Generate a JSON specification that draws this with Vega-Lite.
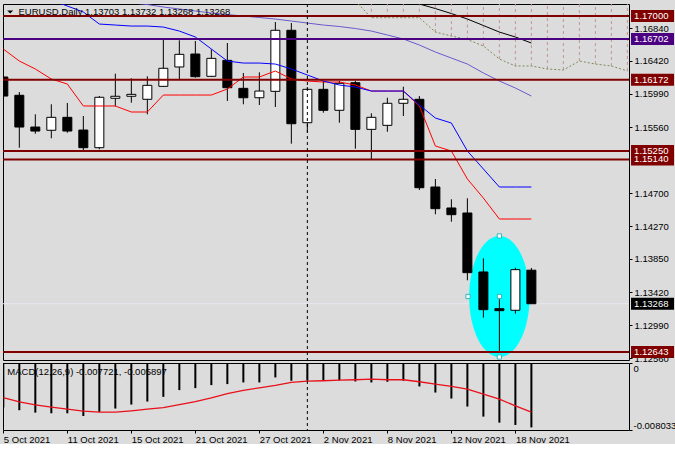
{
  "$schema": "https://vega.github.io/schema/vega-lite/v6.json",
  "background": "#dcdcdc",
  "padding": {"left": 2, "top": 3, "right": 0, "bottom": 0},
  "bounds": "flush",
  "spacing": 3,
  "config": {
    "view": {"stroke": "#000000", "strokeWidth": 1},
    "font": "Liberation Sans",
    "axis": {"labelFont": "Liberation Sans", "labelFontSize": 9.5, "labelColor": "#000000", "tickColor": "#000000", "tickSize": 3, "domain": false, "grid": false}
  },
  "datasets": {
    "candles": [
      {"i": 0, "date": "2021-10-05", "open": 1.16209, "high": 1.16240, "low": 1.15930, "close": 1.15962},
      {"i": 1, "date": "2021-10-06", "open": 1.15972, "high": 1.16014, "low": 1.15292, "close": 1.15560},
      {"i": 2, "date": "2021-10-07", "open": 1.15560, "high": 1.15725, "low": 1.15473, "close": 1.15508},
      {"i": 3, "date": "2021-10-08", "open": 1.15518, "high": 1.15855, "low": 1.15414, "close": 1.15686},
      {"i": 4, "date": "2021-10-11", "open": 1.15686, "high": 1.15872, "low": 1.15486, "close": 1.15508},
      {"i": 5, "date": "2021-10-12", "open": 1.15521, "high": 1.15703, "low": 1.15249, "close": 1.15292},
      {"i": 6, "date": "2021-10-13", "open": 1.15292, "high": 1.15962, "low": 1.15271, "close": 1.15946},
      {"i": 7, "date": "2021-10-14", "open": 1.15933, "high": 1.16252, "low": 1.15829, "close": 1.15959},
      {"i": 8, "date": "2021-10-15", "open": 1.15959, "high": 1.16192, "low": 1.15876, "close": 1.15984},
      {"i": 9, "date": "2021-10-18", "open": 1.15920, "high": 1.16218, "low": 1.15725, "close": 1.16101},
      {"i": 10, "date": "2021-10-19", "open": 1.16088, "high": 1.16693, "low": 1.16079, "close": 1.16322},
      {"i": 11, "date": "2021-10-20", "open": 1.16339, "high": 1.16685, "low": 1.16174, "close": 1.16503},
      {"i": 12, "date": "2021-10-21", "open": 1.16507, "high": 1.16676, "low": 1.16200, "close": 1.16213},
      {"i": 13, "date": "2021-10-22", "open": 1.16218, "high": 1.16568, "low": 1.16209, "close": 1.16451},
      {"i": 14, "date": "2021-10-25", "open": 1.16425, "high": 1.16650, "low": 1.15898, "close": 1.16070},
      {"i": 15, "date": "2021-10-26", "open": 1.16062, "high": 1.16261, "low": 1.15855, "close": 1.15940},
      {"i": 16, "date": "2021-10-27", "open": 1.15940, "high": 1.16270, "low": 1.15846, "close": 1.16027},
      {"i": 17, "date": "2021-10-28", "open": 1.16023, "high": 1.16922, "low": 1.15820, "close": 1.16815},
      {"i": 18, "date": "2021-10-29", "open": 1.16815, "high": 1.16909, "low": 1.15344, "close": 1.15603},
      {"i": 19, "date": "2021-11-01", "open": 1.15616, "high": 1.16079, "low": 1.15490, "close": 1.16049},
      {"i": 20, "date": "2021-11-02", "open": 1.16049, "high": 1.16157, "low": 1.15746, "close": 1.15777},
      {"i": 21, "date": "2021-11-03", "open": 1.15777, "high": 1.16157, "low": 1.15616, "close": 1.16127},
      {"i": 22, "date": "2021-11-04", "open": 1.16135, "high": 1.16157, "low": 1.15279, "close": 1.15530},
      {"i": 23, "date": "2021-11-05", "open": 1.15530, "high": 1.15738, "low": 1.15141, "close": 1.15686},
      {"i": 24, "date": "2021-11-08", "open": 1.15582, "high": 1.15940, "low": 1.15499, "close": 1.15868},
      {"i": 25, "date": "2021-11-09", "open": 1.15868, "high": 1.16083, "low": 1.15703, "close": 1.15920},
      {"i": 26, "date": "2021-11-10", "open": 1.15920, "high": 1.15962, "low": 1.14743, "close": 1.14773},
      {"i": 27, "date": "2021-11-11", "open": 1.14782, "high": 1.14886, "low": 1.14428, "close": 1.14501},
      {"i": 28, "date": "2021-11-12", "open": 1.14510, "high": 1.14623, "low": 1.14332, "close": 1.14423},
      {"i": 29, "date": "2021-11-15", "open": 1.14445, "high": 1.14636, "low": 1.13572, "close": 1.13671},
      {"i": 30, "date": "2021-11-16", "open": 1.13680, "high": 1.13857, "low": 1.13087, "close": 1.13191},
      {"i": 31, "date": "2021-11-17", "open": 1.13204, "high": 1.13326, "low": 1.12643, "close": 1.13178},
      {"i": 32, "date": "2021-11-18", "open": 1.13183, "high": 1.13735, "low": 1.13139, "close": 1.13710},
      {"i": 33, "date": "2021-11-19", "open": 1.13703, "high": 1.13732, "low": 1.13268, "close": 1.13268}
    ],
    "tenkan": [
      {"i": 0, "price": 1.16572}, {"i": 1, "price": 1.16416}, {"i": 2, "price": 1.16313}, {"i": 3, "price": 1.16183},
      {"i": 4, "price": 1.16118}, {"i": 5, "price": 1.15833}, {"i": 6, "price": 1.15833}, {"i": 7, "price": 1.15833},
      {"i": 8, "price": 1.15755}, {"i": 9, "price": 1.15755}, {"i": 10, "price": 1.15975}, {"i": 11, "price": 1.15975},
      {"i": 12, "price": 1.15975}, {"i": 13, "price": 1.15975}, {"i": 14, "price": 1.16053}, {"i": 15, "price": 1.16209},
      {"i": 16, "price": 1.16209}, {"i": 17, "price": 1.16287}, {"i": 18, "price": 1.16183}, {"i": 19, "price": 1.16157},
      {"i": 20, "price": 1.16144}, {"i": 21, "price": 1.16144}, {"i": 22, "price": 1.16105}, {"i": 23, "price": 1.16027},
      {"i": 24, "price": 1.16027}, {"i": 25, "price": 1.16027}, {"i": 26, "price": 1.15833}, {"i": 27, "price": 1.15314},
      {"i": 28, "price": 1.15249}, {"i": 29, "price": 1.14886}, {"i": 30, "price": 1.14639}, {"i": 31, "price": 1.14367},
      {"i": 32, "price": 1.14367}, {"i": 33, "price": 1.14367}
    ],
    "kijun": [
      {"i": 3, "price": 1.17208}, {"i": 4, "price": 1.17130}, {"i": 5, "price": 1.17052}, {"i": 6, "price": 1.16896},
      {"i": 7, "price": 1.16883}, {"i": 8, "price": 1.16870}, {"i": 9, "price": 1.16870}, {"i": 10, "price": 1.16857},
      {"i": 11, "price": 1.16805}, {"i": 12, "price": 1.16728}, {"i": 13, "price": 1.16572}, {"i": 14, "price": 1.16416},
      {"i": 15, "price": 1.16390}, {"i": 16, "price": 1.16390}, {"i": 17, "price": 1.16377}, {"i": 18, "price": 1.16313},
      {"i": 19, "price": 1.16235}, {"i": 20, "price": 1.16157}, {"i": 21, "price": 1.16105}, {"i": 22, "price": 1.16079},
      {"i": 23, "price": 1.16027}, {"i": 24, "price": 1.16027}, {"i": 25, "price": 1.16027}, {"i": 26, "price": 1.15846},
      {"i": 27, "price": 1.15677}, {"i": 28, "price": 1.15612}, {"i": 29, "price": 1.15249}, {"i": 30, "price": 1.15016},
      {"i": 31, "price": 1.14782}, {"i": 32, "price": 1.14782}, {"i": 33, "price": 1.14782}
    ],
    "slate": [
      {"i": 8, "price": 1.17170}, {"i": 9, "price": 1.17149}, {"i": 10, "price": 1.17117}, {"i": 11, "price": 1.17091},
      {"i": 12, "price": 1.17065}, {"i": 13, "price": 1.17039}, {"i": 14, "price": 1.17019}, {"i": 15, "price": 1.17000},
      {"i": 16, "price": 1.16981}, {"i": 17, "price": 1.16961}, {"i": 18, "price": 1.16935}, {"i": 19, "price": 1.16909},
      {"i": 20, "price": 1.16883}, {"i": 21, "price": 1.16864}, {"i": 22, "price": 1.16838}, {"i": 23, "price": 1.16805},
      {"i": 24, "price": 1.16754}, {"i": 25, "price": 1.16702}, {"i": 26, "price": 1.16624}, {"i": 27, "price": 1.16533},
      {"i": 28, "price": 1.16455}, {"i": 29, "price": 1.16377}, {"i": 30, "price": 1.16261}, {"i": 31, "price": 1.16157},
      {"i": 32, "price": 1.16066}, {"i": 33, "price": 1.15962}
    ],
    "blackline": [
      {"i": 25, "price": 1.17217}, {"i": 26, "price": 1.17156}, {"i": 27, "price": 1.17097}, {"i": 28, "price": 1.17032},
      {"i": 29, "price": 1.16961}, {"i": 30, "price": 1.16877}, {"i": 31, "price": 1.16792}, {"i": 32, "price": 1.16728},
      {"i": 33, "price": 1.16650}
    ],
    "kumo": [
      {"i": 22, "spanA": 1.17195, "spanB": 1.1760}, {"i": 23, "spanA": 1.16978, "spanB": 1.1760},
      {"i": 24, "spanA": 1.16978, "spanB": 1.1760}, {"i": 25, "spanA": 1.16978, "spanB": 1.1760},
      {"i": 26, "spanA": 1.16978, "spanB": 1.1760}, {"i": 27, "spanA": 1.16792, "spanB": 1.1760},
      {"i": 28, "spanA": 1.16741, "spanB": 1.1760}, {"i": 29, "spanA": 1.16695, "spanB": 1.1760},
      {"i": 30, "spanA": 1.16611, "spanB": 1.1760}, {"i": 31, "spanA": 1.16442, "spanB": 1.1760},
      {"i": 32, "spanA": 1.16352, "spanB": 1.1760}, {"i": 33, "spanA": 1.16352, "spanB": 1.1760},
      {"i": 34, "spanA": 1.16313, "spanB": 1.1760}, {"i": 35, "spanA": 1.16300, "spanB": 1.1760},
      {"i": 36, "spanA": 1.16416, "spanB": 1.1760}, {"i": 37, "spanA": 1.16377, "spanB": 1.1760},
      {"i": 38, "spanA": 1.16352, "spanB": 1.1760}, {"i": 39, "spanA": 1.16287, "spanB": 1.1760}
    ],
    "levels": [
      {"price": 1.17000, "kind": "level"},
      {"price": 1.16702, "kind": "pivot"},
      {"price": 1.16172, "kind": "level"},
      {"price": 1.15250, "kind": "level"},
      {"price": 1.15140, "kind": "level"},
      {"price": 1.13268, "kind": "bid"},
      {"price": 1.12643, "kind": "level"}
    ],
    "ellipse": [{"i": 31, "price": 1.13362}],
    "handles": [
      {"i": 31, "price": 1.14147}, {"i": 31, "price": 1.12577}, {"i": 29.04, "price": 1.13362}, {"i": 31, "price": 1.13362}
    ],
    "macd": [
      {"i": 0, "macd": -0.00534, "signal": -0.00414}, {"i": 1, "macd": -0.00566, "signal": -0.00466},
      {"i": 2, "macd": -0.00595, "signal": -0.00502}, {"i": 3, "macd": -0.00603, "signal": -0.00530},
      {"i": 4, "macd": -0.00603, "signal": -0.00554}, {"i": 5, "macd": -0.00635, "signal": -0.00578},
      {"i": 6, "macd": -0.00586, "signal": -0.00590}, {"i": 7, "macd": -0.00546, "signal": -0.00590},
      {"i": 8, "macd": -0.00498, "signal": -0.00574}, {"i": 9, "macd": -0.00462, "signal": -0.00554},
      {"i": 10, "macd": -0.00406, "signal": -0.00534}, {"i": 11, "macd": -0.00325, "signal": -0.00498},
      {"i": 12, "macd": -0.00301, "signal": -0.00462}, {"i": 13, "macd": -0.00265, "signal": -0.00418},
      {"i": 14, "macd": -0.00253, "signal": -0.00366}, {"i": 15, "macd": -0.00233, "signal": -0.00329},
      {"i": 16, "macd": -0.00233, "signal": -0.00297}, {"i": 17, "macd": -0.00173, "signal": -0.00269},
      {"i": 18, "macd": -0.00213, "signal": -0.00233}, {"i": 19, "macd": -0.00213, "signal": -0.00217},
      {"i": 20, "macd": -0.00209, "signal": -0.00213}, {"i": 21, "macd": -0.00209, "signal": -0.00205},
      {"i": 22, "macd": -0.00221, "signal": -0.00201}, {"i": 23, "macd": -0.00233, "signal": -0.00193},
      {"i": 24, "macd": -0.00225, "signal": -0.00201}, {"i": 25, "macd": -0.00213, "signal": -0.00201},
      {"i": 26, "macd": -0.00281, "signal": -0.00225}, {"i": 27, "macd": -0.00354, "signal": -0.00253},
      {"i": 28, "macd": -0.00426, "signal": -0.00281}, {"i": 29, "macd": -0.00522, "signal": -0.00313},
      {"i": 30, "macd": -0.00643, "signal": -0.00374}, {"i": 31, "macd": -0.00715, "signal": -0.00434},
      {"i": 32, "macd": -0.00743, "signal": -0.00514}, {"i": 33, "macd": -0.007721, "signal": -0.005897}
    ]
  },
  "vconcat": [
    {
      "width": 626,
      "height": 356,
      "layer": [
        {
          "data": {"name": "levels"},
          "transform": [{"filter": "datum.kind == 'bid'"}],
          "mark": {"type": "rule", "clip": true, "color": "#e8e8f3", "strokeWidth": 1},
          "encoding": {
            "y": {"field": "price", "type": "quantitative", "title": null,
              "scale": {"domain": [1.12538, 1.17156], "nice": false, "zero": false},
              "axis": {"orient": "right", "title": null, "values": [1.1256, 1.1299, 1.1342, 1.1385, 1.1427, 1.147, 1.1556, 1.1599, 1.1642, 1.1684], "format": ".5f", "tickSize": 3, "labelPadding": 2, "domain": false, "grid": false, "labelBaseline": "middle"}}
          }
        },
        {
          "data": {"name": "ellipse"},
          "mark": {"type": "point", "shape": "M0,-1C0.276,-1,0.5,-0.552,0.5,0C0.5,0.552,0.276,1,0,1C-0.276,1,-0.5,0.552,-0.5,0C-0.5,-0.552,-0.276,-1,0,-1Z", "size": 14641, "filled": true, "color": "#00ffff", "opacity": 1, "strokeWidth": 0},
          "encoding": {
            "x": {"field": "i", "type": "quantitative", "title": null, "scale": {"domain": [-0.02, 39.1], "nice": false, "zero": false, "padding": 0}, "axis": null},
            "y": {"field": "price", "type": "quantitative", "title": null,
              "axis": {"orient": "right", "title": null, "values": [1.1256, 1.1299, 1.1342, 1.1385, 1.1427, 1.147, 1.1556, 1.1599, 1.1642, 1.1684], "format": ".5f", "tickSize": 3, "labelPadding": 2, "domain": false, "grid": false, "labelBaseline": "middle"}}
          }
        },
        {
          "data": {"name": "kumo"},
          "mark": {"type": "rule", "clip": true, "color": "#c29494", "strokeWidth": 1, "strokeDash": [3, 3]},
          "encoding": {
            "x": {"field": "i", "type": "quantitative", "title": null, "axis": null},
            "y": {"field": "spanA", "type": "quantitative", "title": null,
              "axis": {"orient": "right", "title": null, "values": [1.1256, 1.1299, 1.1342, 1.1385, 1.1427, 1.147, 1.1556, 1.1599, 1.1642, 1.1684], "format": ".5f", "tickSize": 3, "labelPadding": 2, "domain": false, "grid": false, "labelBaseline": "middle"}},
            "y2": {"field": "spanB"}
          }
        },
        {
          "data": {"name": "kumo"},
          "mark": {"type": "line", "clip": true, "color": "#7d8c55", "strokeWidth": 1, "strokeDash": [2, 2]},
          "encoding": {
            "x": {"field": "i", "type": "quantitative", "title": null, "axis": null},
            "y": {"field": "spanA", "type": "quantitative", "title": null,
              "axis": {"orient": "right", "title": null, "values": [1.1256, 1.1299, 1.1342, 1.1385, 1.1427, 1.147, 1.1556, 1.1599, 1.1642, 1.1684], "format": ".5f", "tickSize": 3, "labelPadding": 2, "domain": false, "grid": false, "labelBaseline": "middle"}}
          }
        },
        {
          "data": {"name": "candles"},
          "mark": {"type": "rule", "clip": true, "color": "#000000", "strokeWidth": 1},
          "encoding": {
            "x": {"field": "i", "type": "quantitative", "title": null, "axis": null},
            "y": {"field": "low", "type": "quantitative", "title": null,
              "axis": {"orient": "right", "title": null, "values": [1.1256, 1.1299, 1.1342, 1.1385, 1.1427, 1.147, 1.1556, 1.1599, 1.1642, 1.1684], "format": ".5f", "tickSize": 3, "labelPadding": 2, "domain": false, "grid": false, "labelBaseline": "middle"}},
            "y2": {"field": "high"}
          }
        },
        {
          "data": {"name": "candles"},
          "mark": {"type": "bar", "clip": true, "width": 9, "stroke": "#000000", "strokeWidth": 1},
          "encoding": {
            "x": {"field": "i", "type": "quantitative", "title": null, "axis": null},
            "y": {"field": "open", "type": "quantitative", "title": null,
              "axis": {"orient": "right", "title": null, "values": [1.1256, 1.1299, 1.1342, 1.1385, 1.1427, 1.147, 1.1556, 1.1599, 1.1642, 1.1684], "format": ".5f", "tickSize": 3, "labelPadding": 2, "domain": false, "grid": false, "labelBaseline": "middle"}},
            "y2": {"field": "close"},
            "fill": {"condition": {"test": "datum.close > datum.open", "value": "#ffffff"}, "value": "#000000"}
          }
        },
        {
          "data": {"name": "tenkan"},
          "mark": {"type": "line", "clip": true, "color": "#ff0000", "strokeWidth": 1},
          "encoding": {
            "x": {"field": "i", "type": "quantitative", "title": null, "axis": null},
            "y": {"field": "price", "type": "quantitative", "title": null,
              "axis": {"orient": "right", "title": null, "values": [1.1256, 1.1299, 1.1342, 1.1385, 1.1427, 1.147, 1.1556, 1.1599, 1.1642, 1.1684], "format": ".5f", "tickSize": 3, "labelPadding": 2, "domain": false, "grid": false, "labelBaseline": "middle"}}
          }
        },
        {
          "data": {"name": "kijun"},
          "mark": {"type": "line", "clip": true, "color": "#0000ff", "strokeWidth": 1},
          "encoding": {
            "x": {"field": "i", "type": "quantitative", "title": null, "axis": null},
            "y": {"field": "price", "type": "quantitative", "title": null,
              "axis": {"orient": "right", "title": null, "values": [1.1256, 1.1299, 1.1342, 1.1385, 1.1427, 1.147, 1.1556, 1.1599, 1.1642, 1.1684], "format": ".5f", "tickSize": 3, "labelPadding": 2, "domain": false, "grid": false, "labelBaseline": "middle"}}
          }
        },
        {
          "data": {"name": "slate"},
          "mark": {"type": "line", "clip": true, "color": "#6a5acd", "strokeWidth": 1},
          "encoding": {
            "x": {"field": "i", "type": "quantitative", "title": null, "axis": null},
            "y": {"field": "price", "type": "quantitative", "title": null,
              "axis": {"orient": "right", "title": null, "values": [1.1256, 1.1299, 1.1342, 1.1385, 1.1427, 1.147, 1.1556, 1.1599, 1.1642, 1.1684], "format": ".5f", "tickSize": 3, "labelPadding": 2, "domain": false, "grid": false, "labelBaseline": "middle"}}
          }
        },
        {
          "data": {"name": "blackline"},
          "mark": {"type": "line", "clip": true, "color": "#000000", "strokeWidth": 1},
          "encoding": {
            "x": {"field": "i", "type": "quantitative", "title": null, "axis": null},
            "y": {"field": "price", "type": "quantitative", "title": null,
              "axis": {"orient": "right", "title": null, "values": [1.1256, 1.1299, 1.1342, 1.1385, 1.1427, 1.147, 1.1556, 1.1599, 1.1642, 1.1684], "format": ".5f", "tickSize": 3, "labelPadding": 2, "domain": false, "grid": false, "labelBaseline": "middle"}}
          }
        },
        {
          "data": {"name": "levels"},
          "transform": [{"filter": "datum.kind != 'bid'"}],
          "mark": {"type": "rule", "clip": true, "strokeWidth": 2},
          "encoding": {
            "y": {"field": "price", "type": "quantitative", "title": null,
              "axis": {"orient": "right", "title": null, "values": [1.1256, 1.1299, 1.1342, 1.1385, 1.1427, 1.147, 1.1556, 1.1599, 1.1642, 1.1684], "format": ".5f", "tickSize": 3, "labelPadding": 2, "domain": false, "grid": false, "labelBaseline": "middle"}},
            "color": {"field": "kind", "type": "nominal", "legend": null, "scale": {"domain": ["level", "pivot", "bid"], "range": ["#800000", "#4b0082", "#000000"]}}
          }
        },
        {
          "data": {"values": [{"i": 19}]},
          "mark": {"type": "rule", "clip": true, "color": "#000000", "strokeWidth": 1, "strokeDash": [3, 3]},
          "encoding": {
            "x": {"field": "i", "type": "quantitative", "title": null, "axis": null}
          }
        },
        {
          "data": {"values": [{"i": 0.95, "price": 1.17052, "label": "EURUSD,Daily  1.13703 1.13732 1.13268 1.13268"}]},
          "mark": {"type": "text", "align": "left", "baseline": "middle", "font": "Liberation Sans", "fontSize": 9.5, "color": "#000000"},
          "encoding": {
            "x": {"field": "i", "type": "quantitative", "title": null, "axis": null},
            "y": {"field": "price", "type": "quantitative", "title": null,
              "axis": {"orient": "right", "title": null, "values": [1.1256, 1.1299, 1.1342, 1.1385, 1.1427, 1.147, 1.1556, 1.1599, 1.1642, 1.1684], "format": ".5f", "tickSize": 3, "labelPadding": 2, "domain": false, "grid": false, "labelBaseline": "middle"}},
            "text": {"field": "label"}
          }
        },
        {
          "data": {"values": [{"i": 0.43, "price": 1.17052}]},
          "mark": {"type": "point", "shape": "M-1,-0.5L1,-0.5L0,0.5Z", "size": 36, "filled": true, "color": "#000000", "opacity": 1},
          "encoding": {
            "x": {"field": "i", "type": "quantitative", "title": null, "axis": null},
            "y": {"field": "price", "type": "quantitative", "title": null,
              "axis": {"orient": "right", "title": null, "values": [1.1256, 1.1299, 1.1342, 1.1385, 1.1427, 1.147, 1.1556, 1.1599, 1.1642, 1.1684], "format": ".5f", "tickSize": 3, "labelPadding": 2, "domain": false, "grid": false, "labelBaseline": "middle"}}
          }
        },
        {
          "data": {"name": "levels"},
          "mark": {"type": "tick", "orient": "horizontal", "size": 43, "thickness": 12, "opacity": 1},
          "encoding": {
            "x": {"datum": 40.57, "type": "quantitative", "axis": null},
            "y": {"field": "price", "type": "quantitative", "title": null,
              "axis": {"orient": "right", "title": null, "values": [1.1256, 1.1299, 1.1342, 1.1385, 1.1427, 1.147, 1.1556, 1.1599, 1.1642, 1.1684], "format": ".5f", "tickSize": 3, "labelPadding": 2, "domain": false, "grid": false, "labelBaseline": "middle"}},
            "color": {"field": "kind", "type": "nominal", "legend": null}
          }
        },
        {
          "data": {"name": "levels"},
          "mark": {"type": "text", "align": "left", "baseline": "middle", "font": "Liberation Sans", "fontSize": 9.5, "color": "#ffffff"},
          "encoding": {
            "x": {"datum": 39.42, "type": "quantitative", "axis": null},
            "y": {"field": "price", "type": "quantitative", "title": null,
              "axis": {"orient": "right", "title": null, "values": [1.1256, 1.1299, 1.1342, 1.1385, 1.1427, 1.147, 1.1556, 1.1599, 1.1642, 1.1684], "format": ".5f", "tickSize": 3, "labelPadding": 2, "domain": false, "grid": false, "labelBaseline": "middle"}},
            "text": {"field": "price", "type": "quantitative", "format": ".5f"}
          }
        },
        {
          "data": {"name": "handles"},
          "mark": {"type": "point", "shape": "square", "size": 18, "filled": true, "fill": "#ffffff", "stroke": "#30b8c0", "strokeWidth": 1, "opacity": 1},
          "encoding": {
            "x": {"field": "i", "type": "quantitative", "title": null, "axis": null},
            "y": {"field": "price", "type": "quantitative", "title": null,
              "axis": {"orient": "right", "title": null, "values": [1.1256, 1.1299, 1.1342, 1.1385, 1.1427, 1.147, 1.1556, 1.1599, 1.1642, 1.1684], "format": ".5f", "tickSize": 3, "labelPadding": 2, "domain": false, "grid": false, "labelBaseline": "middle"}}
          }
        }
      ]
    },
    {
      "width": 626,
      "height": 67,
      "layer": [
        {
          "data": {"values": [{"i": 0.25, "v": -0.00108, "label": "MACD(12,26,9) -0.007721, -0.005897"}]},
          "mark": {"type": "text", "align": "left", "baseline": "middle", "font": "Liberation Sans", "fontSize": 9.5, "color": "#000000"},
          "encoding": {
            "x": {"field": "i", "type": "quantitative", "title": null,
              "scale": {"domain": [-0.02, 39.1], "nice": false, "zero": false, "padding": 0},
              "axis": {"orient": "bottom", "title": null, "values": [0, 4, 8, 12, 16, 20, 24, 28, 32], "labelExpr": "['5 Oct 2021','11 Oct 2021','15 Oct 2021','21 Oct 2021','27 Oct 2021','2 Nov 2021','8 Nov 2021','12 Nov 2021','18 Nov 2021'][round(datum.value/4)]", "labelAlign": "left", "labelFlush": false, "labelBaseline": "top", "tickSize": 3, "labelPadding": 1, "domain": false, "grid": false}},
            "y": {"field": "v", "type": "quantitative", "title": null,
              "scale": {"domain": [-0.008033, 0], "nice": false, "zero": false},
              "axis": {"orient": "right", "title": null, "values": [0, -0.008033], "labelExpr": "datum.value == 0 ? '0' : '-0.008033'", "labelFlush": true, "tickSize": 3, "labelPadding": 1, "domain": false, "grid": false}},
            "text": {"field": "label"}
          }
        },
        {
          "data": {"name": "macd"},
          "mark": {"type": "rule", "clip": true, "color": "#000000", "strokeWidth": 2},
          "encoding": {
            "x": {"field": "i", "type": "quantitative", "title": null,
              "axis": {"orient": "bottom", "title": null, "values": [0, 4, 8, 12, 16, 20, 24, 28, 32], "labelExpr": "['5 Oct 2021','11 Oct 2021','15 Oct 2021','21 Oct 2021','27 Oct 2021','2 Nov 2021','8 Nov 2021','12 Nov 2021','18 Nov 2021'][round(datum.value/4)]", "labelAlign": "left", "labelFlush": false, "labelBaseline": "top", "tickSize": 3, "labelPadding": 1, "domain": false, "grid": false}},
            "y": {"field": "macd", "type": "quantitative", "title": null,
              "axis": {"orient": "right", "title": null, "values": [0, -0.008033], "labelExpr": "datum.value == 0 ? '0' : '-0.008033'", "labelFlush": true, "tickSize": 3, "labelPadding": 1, "domain": false, "grid": false}},
            "y2": {"datum": 0}
          }
        },
        {
          "data": {"name": "macd"},
          "mark": {"type": "line", "clip": true, "color": "#e8101a", "strokeWidth": 1.3},
          "encoding": {
            "x": {"field": "i", "type": "quantitative", "title": null,
              "axis": {"orient": "bottom", "title": null, "values": [0, 4, 8, 12, 16, 20, 24, 28, 32], "labelExpr": "['5 Oct 2021','11 Oct 2021','15 Oct 2021','21 Oct 2021','27 Oct 2021','2 Nov 2021','8 Nov 2021','12 Nov 2021','18 Nov 2021'][round(datum.value/4)]", "labelAlign": "left", "labelFlush": false, "labelBaseline": "top", "tickSize": 3, "labelPadding": 1, "domain": false, "grid": false}},
            "y": {"field": "signal", "type": "quantitative", "title": null,
              "axis": {"orient": "right", "title": null, "values": [0, -0.008033], "labelExpr": "datum.value == 0 ? '0' : '-0.008033'", "labelFlush": true, "tickSize": 3, "labelPadding": 1, "domain": false, "grid": false}}
          }
        },
        {
          "data": {"values": [{"i": 19}]},
          "mark": {"type": "rule", "clip": true, "color": "#000000", "strokeWidth": 1, "strokeDash": [3, 3]},
          "encoding": {
            "x": {"field": "i", "type": "quantitative", "title": null,
              "axis": {"orient": "bottom", "title": null, "values": [0, 4, 8, 12, 16, 20, 24, 28, 32], "labelExpr": "['5 Oct 2021','11 Oct 2021','15 Oct 2021','21 Oct 2021','27 Oct 2021','2 Nov 2021','8 Nov 2021','12 Nov 2021','18 Nov 2021'][round(datum.value/4)]", "labelAlign": "left", "labelFlush": false, "labelBaseline": "top", "tickSize": 3, "labelPadding": 1, "domain": false, "grid": false}}
          }
        }
      ]
    }
  ],
  "resolve": {"scale": {"x": "independent", "y": "independent", "color": "independent"}}
}
